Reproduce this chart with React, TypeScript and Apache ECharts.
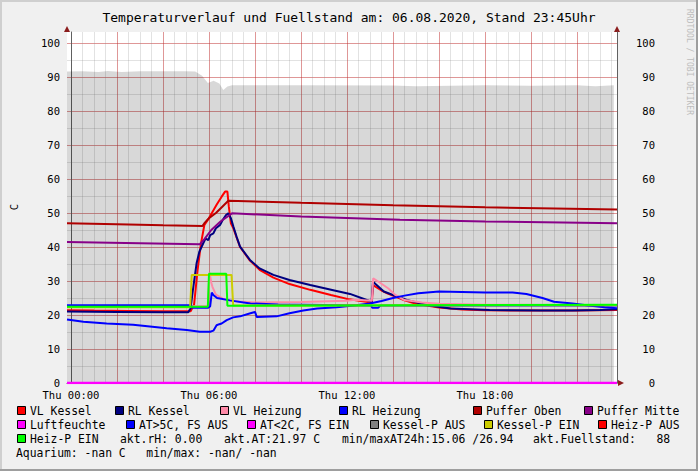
import React, { useEffect, useRef } from "react";
import * as echarts from "echarts";

// ---- time axis (hours, Thu) ----
const X_MIN = -4 / 23;
const X_MAX = 546 / 23;
const Y_MAX = 351 / 3.4;

const xLabelHours = [0, 6, 12, 18];
const xMajorHours = [0, 2, 4, 6, 8, 10, 12, 14, 16, 18, 20, 22];
const xMinorHours = Array.from({ length: 48 }, (_, i) => i * 0.5);
const yLabelValues = [0, 10, 20, 30, 40, 50, 60, 70, 80, 90, 100];
const yMinorValues = Array.from({ length: 21 }, (_, i) => i * 5);

// ---- series values [hour, value] ----
const fuellstand = [
  [X_MIN, 91.6], [0.5, 91.7], [1.2, 91.5], [1.6, 91.8], [2.2, 91.5], [3.0, 91.7], [4.0, 91.7],
  [5.0, 91.7], [5.4, 91.6], [5.7, 90.4], [5.95, 88.2], [6.2, 88.9], [6.45, 88.1], [6.62, 86.2],
  [6.8, 87.2], [7.0, 87.6], [10.0, 87.6], [14.0, 87.5], [15.0, 87.3], [18.0, 87.6], [20.0, 87.4],
  [22.0, 87.6], [22.8, 87.3], [23.6, 87.6],
];
const vlKessel = [
  [X_MIN, 21.4], [1, 21.3], [2.5, 21.2], [4, 21.1], [5.2, 21.1], [5.35, 23], [5.5, 33], [5.65, 41],
  [5.8, 46.5], [6.0, 48.5], [6.15, 50.3], [6.33, 52.4], [6.55, 54.8], [6.7, 56.3], [6.8, 56.3],
  [6.86, 52], [6.95, 47], [7.06, 45.5], [7.35, 40], [7.78, 36], [8.2, 33.3], [8.8, 31], [9.5, 29.1],
  [10.4, 27.4], [11.3, 25.9], [12.1, 24.6], [12.9, 23.8], [13.08, 23.6], [13.13, 28.8], [13.5, 27.2],
  [13.8, 26.2], [14.1, 25.4], [14.5, 24.3], [15, 23.3], [16, 22.2], [17, 21.6], [18, 21.4], [20, 21.3],
  [22, 21.3], [X_MAX, 21.5],
];
const rlKessel = [
  [X_MIN, 21.0], [2, 20.9], [4, 20.8], [5.1, 20.8], [5.2, 22], [5.3, 27.3], [5.46, 35.2], [5.58, 38.6],
  [5.75, 41.1], [5.85, 42.5], [5.97, 42], [6.05, 43.5], [6.19, 44], [6.3, 45.5], [6.48, 46.5], [6.6, 48],
  [6.74, 49.4], [6.84, 49.9], [6.95, 48.5], [7.06, 46], [7.2, 43], [7.35, 40.1], [7.78, 36.2], [8.2, 33.7],
  [8.8, 31.8], [9.5, 30.3], [10.4, 28.8], [11.26, 27.5], [12.13, 26.2], [12.86, 24.4], [13.07, 23.9],
  [13.13, 29.8], [13.6, 26.9], [14.0, 25.9], [14.6, 24.4], [15.5, 22.9], [16.5, 21.9], [18.2, 21.5],
  [20.4, 21.3], [21.8, 21.3], [23, 21.5], [X_MAX, 21.7],
];
const vlHeizung = [
  [X_MIN, 22.6], [5.95, 22.6], [6.02, 32.5], [6.1, 29.5], [6.15, 28.3], [6.3, 26], [6.6, 24.8],
  [6.9, 24.3], [7.3, 24], [8, 23.7], [10, 23.8], [12, 24.2], [12.35, 24.5], [13.08, 24.2], [13.14, 30.8],
  [13.5, 29.2], [13.8, 27.8], [14.1, 25.9], [14.5, 24.4], [15.25, 23.7], [16, 23.3], [18, 23],
  [X_MAX, 22.9],
];
const rlHeizung = [
  [X_MIN, 22.9], [5.2, 22.9], [5.3, 22.1], [5.95, 22.1], [6.05, 22.5], [6.12, 26.6], [6.2, 25.8],
  [6.35, 25], [6.9, 24.3], [7.8, 23.4], [9, 23.1], [12, 22.9], [13.05, 22.8], [13.1, 22.1],
  [13.35, 22.1], [13.45, 22.8], [X_MAX, 22.8],
];
const aussenTemp = [
  [X_MIN, 18.7], [0.54, 18.0], [1.55, 17.5], [2.7, 17.1], [3.43, 16.6], [4.16, 16.1], [5.03, 15.6],
  [5.6, 15.1], [6.05, 15.06], [6.19, 15.4], [6.33, 17], [6.45, 17.3], [6.55, 17.5], [6.77, 18.5],
  [7.05, 19.3], [7.35, 19.6], [7.8, 20.5], [8.0, 20.9], [8.08, 19.4], [8.94, 19.6], [9.5, 20.5],
  [10.1, 21.3], [10.7, 21.9], [11.55, 22.3], [12.4, 22.9], [13.0, 23.4], [13.5, 24.1], [14.0, 25.0],
  [14.5, 25.7], [15.1, 26.4], [16, 26.9], [17, 26.8], [18, 26.6], [19.2, 26.6], [19.8, 26.2],
  [20.5, 25], [21, 23.9], [21.8, 23.4], [22.5, 22.8], [23.2, 22.3], [X_MAX, 21.97],
];
const pufferOben = [
  [X_MIN, 47], [2, 46.7], [4, 46.4], [5.72, 46.2], [5.8, 47], [6.0, 48.5], [6.3, 50], [6.6, 52],
  [6.84, 53.6], [10, 53], [14, 52.3], [18, 51.7], [X_MAX, 51],
];
const pufferMitte = [
  [X_MIN, 41.5], [3, 41.1], [5.6, 40.8], [5.8, 42.3], [6.1, 45], [6.5, 47.5], [7.0, 49.9], [10, 49],
  [14.3, 48], [18, 47.5], [X_MAX, 47],
];
const luftfeuchte = [[X_MIN, 0], [X_MAX, 0]];
const kesselPEin = [
  [X_MIN, 22.3], [5.18, 22.3], [5.25, 31.8], [6.98, 31.8], [7.05, 22.8], [X_MAX, 22.9],
];
const heizPEin = [
  [X_MIN, 22.4], [5.95, 22.4], [6.0, 32.1], [6.75, 32.1], [6.8, 22.7], [12, 22.8], [X_MAX, 23.0],
];

// ---- texts ----
const titleText = "Temperaturverlauf und Fuellstand am: 06.08.2020, Stand 23:45Uhr";
const yAxisName = "C";
const watermark = "RRDTOOL / TOBI OETIKER";
const legendNames = [
  ["VL Kessel", "RL Kessel", "VL Heizung", "RL Heizung", "Puffer Oben", "Puffer Mitte"],
  ["Luftfeuchte", "AT>5C, FS AUS", "AT<2C, FS EIN", "Kessel-P AUS", "Kessel-P EIN", "Heiz-P AUS"],
  ["Heiz-P EIN"],
];
const legendColors = [
  ["#ff0000", "#000080", "#ff8aa8", "#0000ff", "#b00000", "#880088"],
  ["#ff00ff", "#0000ff", "#ff00ff", "#808080", "#cccc00", "#ff0000"],
  ["#00ff00"],
];
const infoRow3 = ["akt.rH: 0.00", "akt.AT:21.97 C", "min/maxAT24h:15.06 /26.94", "akt.Fuellstand:   88"];
const infoRow4 = ["Aquarium: -nan C   min/max: -nan/ -nan"];

// ---- layout ----
const legendBoxX = [
  [17, 115, 220, 339, 473, 584],
  [17, 126, 247, 370, 484, 598],
  [17],
];
const infoRow3X = [120, 224, 342, 533];
const rowY = [411, 425, 439, 453];
const MONO = '"DejaVu Sans Mono", monospace';

function pad(n: number) {
  return String(n).padStart(2, "0");
}

export default function App() {
  const ref = useRef<HTMLDivElement>(null);
  useEffect(() => {
    if (!ref.current) return;
    const chart = echarts.init(ref.current, null, { renderer: "svg" });

    const graphics: any[] = [];
    // border shading
    graphics.push({ type: "rect", shape: { x: 0, y: 0, width: 698, height: 2 }, style: { fill: "#cfcfcf" }, silent: true });
    graphics.push({ type: "rect", shape: { x: 0, y: 0, width: 2, height: 471 }, style: { fill: "#cfcfcf" }, silent: true });
    graphics.push({ type: "rect", shape: { x: 0, y: 469, width: 698, height: 2 }, style: { fill: "#9e9e9e" }, silent: true });
    graphics.push({ type: "rect", shape: { x: 696, y: 0, width: 2, height: 471 }, style: { fill: "#9e9e9e" }, silent: true });
    // title
    graphics.push({
      type: "text", x: 349, y: 17,
      style: { text: titleText, font: `13px ${MONO}`, fill: "#000", textAlign: "center", textVerticalAlign: "middle" },
    });
    // y axis name
    graphics.push({
      type: "text", x: 14, y: 207, rotation: Math.PI / 2,
      style: { text: yAxisName, font: `10.5px ${MONO}`, fill: "#000", textAlign: "center", textVerticalAlign: "middle" },
    });
    // watermark
    graphics.push({
      type: "text", x: 689, y: 62, rotation: -Math.PI / 2,
      style: { text: watermark, font: `8px ${MONO}`, fill: "#bdbdbd", textAlign: "center", textVerticalAlign: "middle" },
    });
    // arrows
    const arrowColor = "#8b1c1c";
    graphics.push({ type: "polygon", shape: { points: [[64, 32], [70, 32], [67, 26]] }, style: { fill: arrowColor } });
    graphics.push({ type: "polygon", shape: { points: [[614, 32], [620, 32], [617, 26]] }, style: { fill: arrowColor } });
    graphics.push({ type: "polygon", shape: { points: [[618, 380], [618, 386], [624, 383]] }, style: { fill: arrowColor } });

    // legend
    legendNames.forEach((row, r) => {
      row.forEach((name, i) => {
        const bx = legendBoxX[r][i];
        const cy = rowY[r];
        graphics.push({
          type: "rect", shape: { x: bx + 0.5, y: cy - 4.5, width: 8, height: 8 },
          style: { fill: legendColors[r][i], stroke: "#000", lineWidth: 1 },
        });
        graphics.push({
          type: "text", x: bx + 13, y: cy,
          style: { text: name, font: `11.4px ${MONO}`, fill: "#000", textAlign: "left", textVerticalAlign: "middle" },
        });
      });
    });
    infoRow3.forEach((t, i) => {
      graphics.push({
        type: "text", x: infoRow3X[i], y: rowY[2],
        style: { text: t, font: `11.4px ${MONO}`, fill: "#000", textAlign: "left", textVerticalAlign: "middle" },
      });
    });
    infoRow4.forEach((t) => {
      graphics.push({
        type: "text", x: 16, y: rowY[3],
        style: { text: t, font: `11.4px ${MONO}`, fill: "#000", textAlign: "left", textVerticalAlign: "middle" },
      });
    });

    const minorColor = "rgba(140,140,140,0.25)";
    const majorColor = "rgba(220,0,0,0.33)";
    const axisColor = "#606060";
    const labelStyle = { fontFamily: MONO, fontSize: 10.5, color: "#000" };

    const line = (name: string, data: number[][], color: string, width = 2) => ({
      name, type: "line", data, showSymbol: false, symbol: "none",
      lineStyle: { color, width }, itemStyle: { color }, xAxisIndex: 0, yAxisIndex: 0,
    });

    chart.setOption({
      animation: false,
      backgroundColor: "#f0f0f0",
      grid: { left: 67, right: 81, top: 32, bottom: 88, show: true, backgroundColor: "#ffffff", borderWidth: 0 },
      xAxis: [
        {
          type: "value", min: X_MIN, max: X_MAX, position: "bottom",
          axisLine: { show: true, lineStyle: { color: axisColor, width: 1 } },
          axisTick: { show: false, customValues: xMinorHours },
          axisLabel: {
            ...labelStyle, customValues: xLabelHours, margin: 6,
            formatter: (v: number) => `Thu ${pad(v)}:00`,
          },
          splitLine: { show: true, lineStyle: { color: minorColor, width: 1 } },
        },
        {
          type: "value", min: X_MIN, max: X_MAX, position: "bottom",
          axisLine: { show: false },
          axisTick: { show: false, customValues: xMajorHours },
          axisLabel: { show: false },
          splitLine: { show: true, lineStyle: { color: majorColor, width: 1 } },
        },
      ],
      yAxis: [
        {
          type: "value", min: 0, max: Y_MAX, position: "left",
          axisLine: { show: true, lineStyle: { color: axisColor, width: 1 } },
          axisTick: { show: false, customValues: yMinorValues },
          axisLabel: { ...labelStyle, customValues: yLabelValues, margin: 7 },
          splitLine: { show: true, lineStyle: { color: minorColor, width: 1 } },
        },
        {
          type: "value", min: 0, max: Y_MAX, position: "left",
          axisLine: { show: false },
          axisTick: { show: false, customValues: yLabelValues },
          axisLabel: { show: false },
          splitLine: { show: true, lineStyle: { color: majorColor, width: 1 } },
        },
        {
          type: "value", min: 0, max: Y_MAX, position: "right",
          axisLine: { show: true, lineStyle: { color: axisColor, width: 1 } },
          axisTick: { show: false, customValues: yLabelValues },
          axisLabel: { ...labelStyle, customValues: yLabelValues, margin: 38, align: "right" },
          splitLine: { show: false },
        },
      ],
      series: [
        {
          name: "Fuellstand", type: "line", data: fuellstand, showSymbol: false, symbol: "none",
          lineStyle: { width: 0 }, areaStyle: { color: "rgba(0,0,0,0.153)", opacity: 1 },
          xAxisIndex: 0, yAxisIndex: 0,
        },
        line("VL Kessel", vlKessel, "#ff0000"),
        line("RL Kessel", rlKessel, "#000080"),
        line("VL Heizung", vlHeizung, "#ff8aa8"),
        line("RL Heizung", rlHeizung, "#0000ff"),
        line("Puffer Oben", pufferOben, "#b00000"),
        line("Puffer Mitte", pufferMitte, "#880088"),
        line("AT", aussenTemp, "#0000ff"),
        line("Kessel-P EIN", kesselPEin, "#cccc00"),
        line("Heiz-P EIN", heizPEin, "#00ff00"),
        line("Luftfeuchte", luftfeuchte, "#ff00ff", 2.5),
      ],
      graphic: graphics,
    });
    return () => chart.dispose();
  }, []);
  return <div ref={ref} style={{ position: "fixed", left: 0, top: 0, width: 698, height: 471 }} />;
}
